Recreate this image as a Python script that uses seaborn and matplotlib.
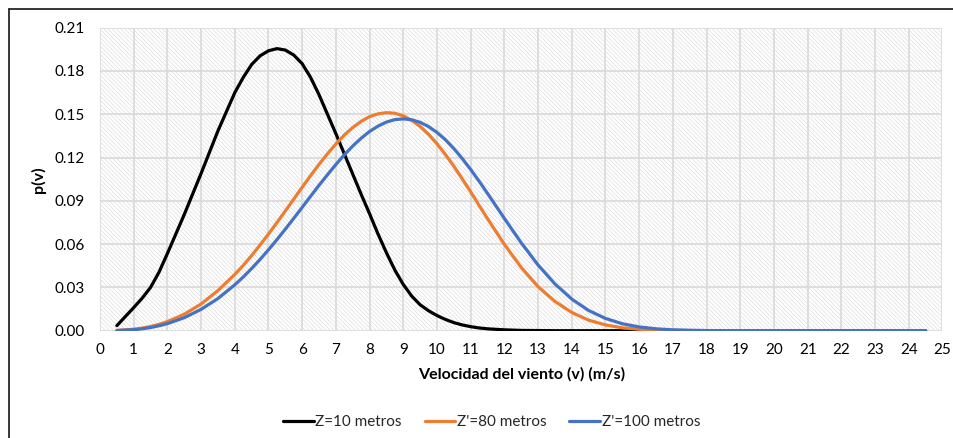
import numpy as np
import pandas as pd
import matplotlib
matplotlib.use("Agg")
import matplotlib.pyplot as plt
from matplotlib.patches import Rectangle
from matplotlib.lines import Line2D
import seaborn as sns

# ---- data ----
velocidad = [0.5, 1.0, 1.25, 1.5, 1.75, 2.0, 2.5, 3.0, 3.5, 4.0,
             4.25, 4.5, 4.75, 5.0, 5.25, 5.5, 5.75, 6.0, 6.25, 6.5, 6.75, 7.0,
             7.25, 7.5, 7.75, 8.0, 8.25, 8.5, 8.75, 9.0, 9.25, 9.5, 9.75, 10.0,
             10.25, 10.5, 10.75, 11.0, 11.25,
             11.5, 12.0, 12.5, 13.0, 13.5, 14.0, 14.5, 15.0, 15.5, 16.0, 16.5,
             17.0, 17.5, 18.0, 18.5, 19.0, 19.5, 20.0, 20.5, 21.0, 21.5, 22.0,
             22.5, 23.0, 23.5, 24.0, 24.5]

p_z10 = [0.0035, 0.0160, 0.0225, 0.0300, 0.0405, 0.0535, 0.0805, 0.1090, 0.1385, 0.1650,
         0.1755, 0.1845, 0.1905, 0.1940, 0.1955, 0.1945, 0.1910, 0.1850, 0.1755,
         0.1635, 0.1500, 0.1365,
         0.1225, 0.1085, 0.0945, 0.0810, 0.0670, 0.0540, 0.0420, 0.0320, 0.0240,
         0.0180, 0.0138, 0.0105,
         0.0078, 0.0056, 0.0040, 0.0028, 0.0019,
         0.0013, 0.0006, 0.0002, 0.0001, 0, 0, 0, 0, 0, 0, 0,
         0, 0, 0, 0, 0, 0, 0, 0, 0, 0, 0, 0, 0, 0, 0, 0]

p_z80 = [0.0002, 0.0010, 0.0018, 0.0029, 0.0044, 0.0063, 0.0114, 0.0185, 0.0278, 0.0390,
         0.0452, 0.0521, 0.0594, 0.0670, 0.0749, 0.0830, 0.0912, 0.0994, 0.1075,
         0.1153, 0.1226, 0.1294,
         0.1356, 0.1408, 0.1451, 0.1484, 0.1503, 0.1511, 0.1507, 0.1489, 0.1458,
         0.1415, 0.1361, 0.1295,
         0.1221, 0.1140, 0.1052, 0.0962, 0.0868,
         0.0776, 0.0598, 0.0438, 0.0305, 0.0203, 0.0126, 0.0073, 0.0040, 0.0020,
         0.0010, 0.0004,
         0.0002, 0.0001, 0, 0, 0, 0, 0, 0, 0, 0, 0, 0, 0, 0, 0, 0]

p_z100 = [0.0001, 0.0007, 0.0013, 0.0022, 0.0034, 0.0049, 0.0090, 0.0148, 0.0223, 0.0318,
          0.0372, 0.0431, 0.0494, 0.0561, 0.0631, 0.0704, 0.0779, 0.0855, 0.0932,
          0.1008, 0.1081, 0.1152,
          0.1219, 0.1280, 0.1334, 0.1381, 0.1418, 0.1446, 0.1463, 0.1468, 0.1462,
          0.1444, 0.1415, 0.1374,
          0.1323, 0.1262, 0.1193, 0.1117, 0.1036,
          0.0951, 0.0778, 0.0609, 0.0455, 0.0324, 0.0219, 0.0140, 0.0085, 0.0048,
          0.0026, 0.0013,
          0.0006, 0.0003, 0.0001, 0, 0, 0, 0, 0, 0, 0, 0, 0, 0, 0, 0, 0]

series_names = ["Z=10 metros", "Z'=80 metros", "Z'=100 metros"]
series_colors = ["#000000", "#ED7D31", "#4472C4"]
x_ticks = list(range(0, 26))
y_ticks = [0.00, 0.03, 0.06, 0.09, 0.12, 0.15, 0.18, 0.21]
y_ticklabels = ["0.00", "0.03", "0.06", "0.09", "0.12", "0.15", "0.18", "0.21"]

df = pd.concat([
    pd.DataFrame({"v": velocidad, "p": vals, "serie": name})
    for name, vals in zip(series_names, [p_z10, p_z80, p_z100])
], ignore_index=True)

# ---- style ----
sns.set_theme(style="white")
plt.rcParams["font.family"] = ["Lato", "DejaVu Sans"]
plt.rcParams["hatch.linewidth"] = 0.45

W, H = 954, 438
fig = plt.figure(figsize=(W / 100, H / 100), dpi=100)
ax = fig.add_axes([100 / W, (H - 330.7) / H, (942.5 - 100) / W, (330.7 - 27.7) / H])

# hatched plot area background
ax.add_patch(Rectangle((0, 0), 25, 0.21, facecolor="white", edgecolor="#dadada",
                       linewidth=0, hatch="\\" * 8, zorder=0.1))

sns.lineplot(data=df, x="v", y="p", hue="serie", hue_order=series_names,
             palette=series_colors, estimator=None, sort=True, linewidth=2.3,
             ax=ax, zorder=3)
for ln in ax.get_lines():
    ln.set_solid_joinstyle("round")
    ln.set_solid_capstyle("round")

ax.set_xlim(0, 25)
ax.set_ylim(0, 0.21)
ax.set_xticks(x_ticks)
ax.set_xticklabels([str(t) for t in x_ticks])
ax.set_yticks(y_ticks)
ax.set_yticklabels(y_ticklabels)
ax.set_axisbelow(True)
ax.grid(True, color="#d9d9d9", linewidth=1.2)
for s in ax.spines.values():
    s.set_visible(False)
ax.tick_params(axis="both", length=0, labelsize=11, colors="#000000")
ax.tick_params(axis="y", pad=11)
ax.tick_params(axis="x", pad=9)

ax.set_xlabel("Velocidad del viento (v) (m/s)", fontsize=11.5, fontweight="bold",
              labelpad=7, color="#000000")
ax.set_ylabel("p(v)", fontsize=11.5, fontweight="bold", labelpad=6, color="#000000")

# legend
ax.get_legend().remove()
handles = [Line2D([0], [0], color=c, lw=2.3) for c in series_colors]
fig.legend(handles, series_names, loc="center", bbox_to_anchor=(491.7 / W, (H - 422) / H),
           ncol=3, frameon=False, fontsize=11, handlelength=2.0, handletextpad=0.1,
           columnspacing=1.5)

# outer chart border (top and left visible in the reference)
fig.add_artist(Line2D([9 / W, 1.0], [(H - 9) / H, (H - 9) / H], color="#262626",
                      lw=1.3, transform=fig.transFigure))
fig.add_artist(Line2D([9 / W, 9 / W], [(H - 9) / H, 0.0], color="#262626",
                      lw=1.3, transform=fig.transFigure))

fig.savefig("out.png", dpi=100)
